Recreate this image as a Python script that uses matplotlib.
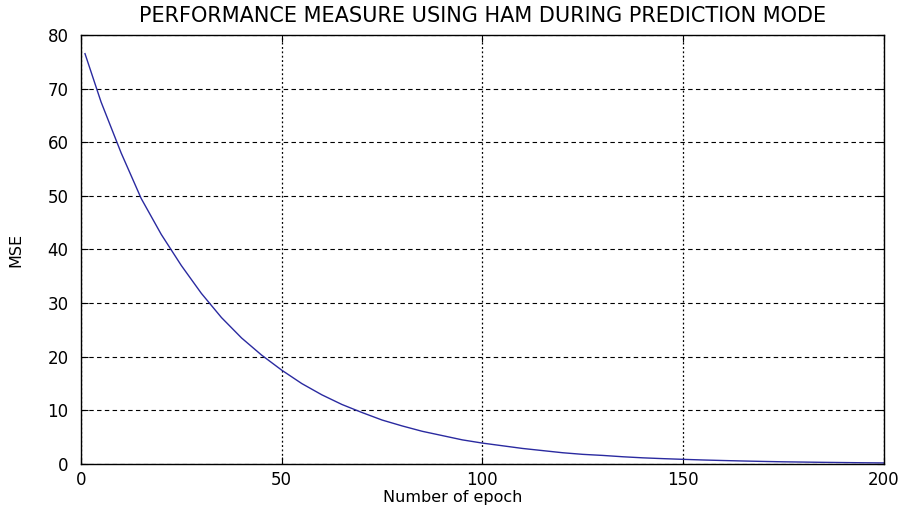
import numpy as np
from matplotlib import pyplot as plt

# MSE, every 5 epochs
epochs = [1, 5, 10, 15, 20, 25, 30, 35, 40, 45, 50, 55, 60, 65, 70, 75, 80, 85, 90, 95,
          100, 105, 110, 115, 120, 125, 130, 135, 140, 145, 150, 155, 160, 165, 170,
          175, 180, 185, 190, 195, 200]
mse = [76.5, 67.5, 58.0, 49.5, 42.8, 37.0, 31.8, 27.3, 23.5, 20.3, 17.5, 15.0, 12.9,
       11.1, 9.6, 8.2, 7.1, 6.1, 5.3, 4.5, 3.9, 3.4, 2.9, 2.5, 2.1, 1.8, 1.6, 1.35,
       1.15, 1.0, 0.87, 0.75, 0.65, 0.56, 0.48, 0.41, 0.36, 0.31, 0.27, 0.23, 0.2]
xticks = [0, 50, 100, 150, 200]
yticks = [0, 10, 20, 30, 40, 50, 60, 70, 80]

plt.rcParams['font.family'] = ['DejaVu Sans']

fig = plt.figure(figsize=(9.14, 5.13), dpi=100)
ax = fig.add_axes([0.0886, 0.0955, 0.8784, 0.8365])
ax.plot(epochs, mse, color='#2a2aa0', lw=1.0)

ax.set_xlim(0, 200)
ax.set_ylim(0, 80)
ax.set_xticks(xticks)
ax.set_yticks(yticks)
ax.tick_params(direction='in', labelsize=12, length=5, width=0.8, top=True, right=True)
ax.tick_params(axis='y', pad=9)
ax.tick_params(axis='x', pad=5)
for s in ax.spines.values():
    s.set_linewidth(1.0)

ax.xaxis.grid(True, linestyle=(0, (1.5, 2)), color='black', lw=0.9)
ax.yaxis.grid(True, linestyle=(0, (4, 3)), color='black', lw=0.8)

ax.set_title("PERFORMANCE MEASURE USING HAM DURING PREDICTION MODE", fontsize=15, pad=9)
ax.set_xlabel("Number of epoch", fontsize=11.5)
ax.set_ylabel("MSE", fontsize=11.5)
ax.xaxis.set_label_coords(0.463, -0.06)
ax.yaxis.set_label_coords(-0.081, 0.5)
ax.yaxis.label.set_va('center')

plt.savefig("out.png", dpi=100)
